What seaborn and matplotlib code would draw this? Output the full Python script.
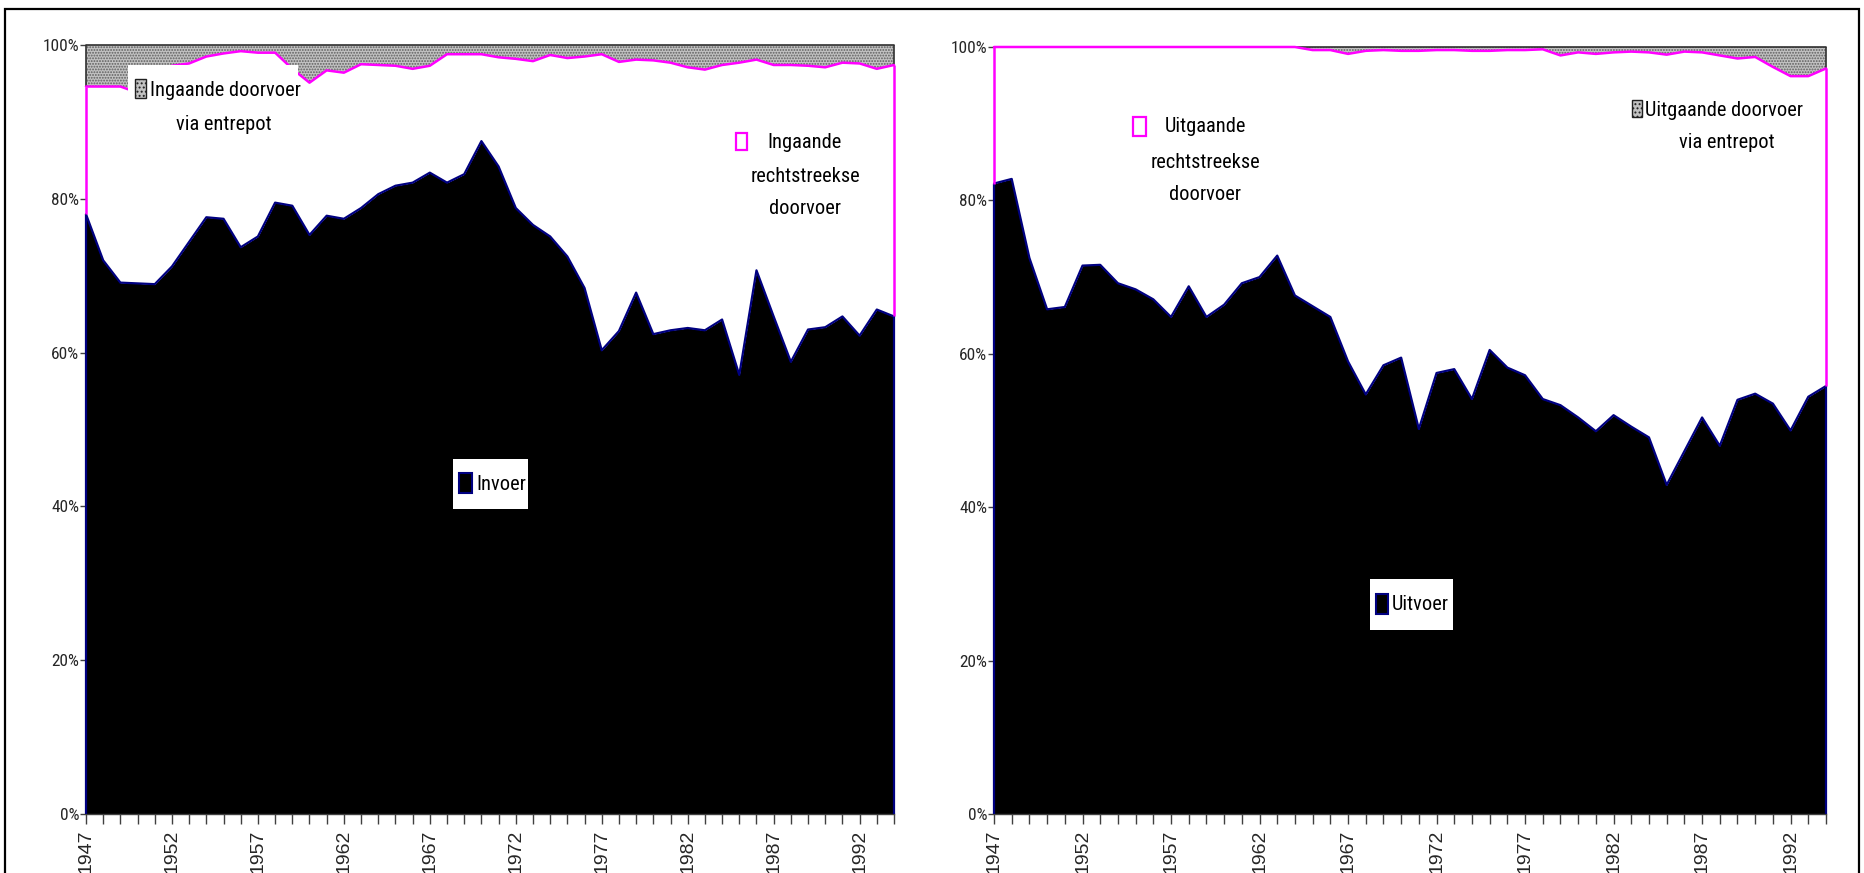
import numpy as np
import matplotlib
matplotlib.use("Agg")
import matplotlib.pyplot as plt
from matplotlib import font_manager
from matplotlib.font_manager import FontProperties
from matplotlib.patches import Rectangle
import seaborn as sns

# ---------------------------------------------------------------------------
# Data: shares (%) of each flow per year, 1947-1994
# ---------------------------------------------------------------------------
years = list(range(1947, 1995))

# incoming goods
invoer = [78.0, 72.0, 69.1, 69.0, 68.9, 71.2, 74.4, 77.6, 77.4, 73.7,
          75.1, 79.5, 79.1, 75.3, 77.8, 77.4, 78.8, 80.6, 81.7, 82.1,
          83.4, 82.1, 83.2, 87.5, 84.2, 78.8, 76.6, 75.1, 72.5, 68.4,
          60.3, 62.8, 67.8, 62.4, 62.9, 63.2, 62.9, 64.3, 57.1, 70.7,
          64.7, 58.8, 63.0, 63.3, 64.7, 62.2, 65.6, 64.7]
ingaand_rechtstreeks = [16.6, 22.6, 25.5, 24.8, 26.9, 26.1, 23.2, 20.9, 21.5, 25.5,
                        23.9, 19.5, 17.8, 19.8, 18.9, 19.0, 18.7, 16.8, 15.6, 14.8,
                        13.9, 16.7, 15.6, 11.3, 14.2, 19.4, 21.3, 23.6, 25.8, 30.1,
                        38.5, 35.0, 30.3, 35.6, 34.8, 33.9, 33.9, 33.1, 40.6, 27.4,
                        32.7, 38.6, 34.3, 33.8, 33.0, 35.4, 31.3, 32.7]
ingaand_entrepot = [5.4, 5.4, 5.4, 6.2, 4.2, 2.7, 2.4, 1.5, 1.1, 0.8,
                    1.0, 1.0, 3.1, 4.9, 3.3, 3.6, 2.5, 2.6, 2.7, 3.1,
                    2.7, 1.2, 1.2, 1.2, 1.6, 1.8, 2.1, 1.3, 1.7, 1.5,
                    1.2, 2.2, 1.9, 2.0, 2.3, 2.9, 3.2, 2.6, 2.3, 1.9,
                    2.6, 2.6, 2.7, 2.9, 2.3, 2.4, 3.1, 2.6]

# outgoing goods
uitvoer = [82.2, 82.8, 72.5, 65.8, 66.1, 71.5, 71.6, 69.2, 68.4, 67.1,
           64.8, 68.8, 64.8, 66.4, 69.2, 70.0, 72.8, 67.6, 66.2, 64.8,
           59.0, 54.7, 58.5, 59.5, 50.2, 57.5, 58.0, 54.1, 60.5, 58.2,
           57.2, 54.1, 53.3, 51.7, 49.9, 52.0, 50.5, 49.1, 42.9, 47.3,
           51.7, 48.0, 54.0, 54.8, 53.5, 50.0, 54.4, 55.8]
uitgaand_rechtstreeks = [17.8, 17.2, 27.5, 34.2, 33.9, 28.5, 28.4, 30.8, 31.6, 32.9,
                         35.2, 31.2, 35.2, 33.6, 30.8, 30.0, 27.2, 32.4, 33.4, 34.8,
                         40.1, 44.8, 41.1, 40.0, 49.3, 42.1, 41.6, 45.4, 39.0, 41.4,
                         42.4, 45.6, 45.6, 47.6, 49.2, 47.3, 48.9, 50.2, 56.1, 52.1,
                         47.6, 50.9, 44.5, 43.9, 43.9, 46.2, 41.8, 41.4]
uitgaand_entrepot = [0.0, 0.0, 0.0, 0.0, 0.0, 0.0, 0.0, 0.0, 0.0, 0.0,
                     0.0, 0.0, 0.0, 0.0, 0.0, 0.0, 0.0, 0.0, 0.4, 0.4,
                     0.9, 0.5, 0.4, 0.5, 0.5, 0.4, 0.4, 0.5, 0.5, 0.4,
                     0.4, 0.3, 1.1, 0.7, 0.9, 0.7, 0.6, 0.7, 1.0, 0.6,
                     0.7, 1.1, 1.5, 1.3, 2.6, 3.8, 3.8, 2.8]

ytick_values = [0, 20, 40, 60, 80, 100]
ytick_labels = ["0%", "20%", "40%", "60%", "80%", "100%"]

# ---------------------------------------------------------------------------
# Styling
# ---------------------------------------------------------------------------
sns.set_theme(style="white")
plt.rcParams["font.family"] = ["Liberation Sans", "DejaVu Sans"]
plt.rcParams["hatch.linewidth"] = 0.9


def pick_narrow_font():
    """Return FontProperties for a narrow/condensed regular sans, if any."""
    order = ["liberation sans narrow", "arial narrow", "roboto condensed",
             "open sans condensed", "noto sans", "open sans", "roboto",
             "dejavu sans", "lato", "inter"]
    best, best_rank = None, None
    for f in font_manager.fontManager.ttflist:
        name = f.name.lower()
        stretch = str(f.stretch).lower()
        cond = ("narrow" in name or "condensed" in name
                or stretch in ("condensed", "semi-condensed"))
        if not cond or f.style != "normal":
            continue
        if f.weight not in (400, "normal", "regular", "book"):
            continue
        if "extra" in stretch or "ultra" in stretch or "extra" in name:
            continue
        rank = next((i for i, o in enumerate(order) if name.startswith(o)), len(order))
        if "semi" in stretch or "semi" in name:
            rank += 0.5
        if best_rank is None or rank < best_rank:
            best, best_rank = f, rank
    if best is None:
        return FontProperties(family="Liberation Sans")
    return FontProperties(fname=best.fname)


NARROW_FP = pick_narrow_font()

NAVY = "#000080"
MAGENTA = "#FF00FF"
GRAY_FILL = "#c2c2c2"
GRAY_HATCH = "#5e5e5e"

W, H = 1865, 873
fig = plt.figure(figsize=(W / 100, H / 100), dpi=100)
fig.patch.set_facecolor("white")
renderer = fig.canvas.get_renderer()


def fx(x):
    return x / W


def fy(y):
    return 1 - y / H


def axes_rect(x0, y0, x1, y1):
    return [fx(x0), fy(y1), fx(x1) - fx(x0), fy(y0) - fy(y1)]


def fitted_size(sample, width_px, max_pt):
    """Largest size (<= max_pt) at which `sample` is at most width_px wide."""
    fp = NARROW_FP.copy()
    fp.set_size(10)
    t = fig.text(0, 0, sample, fontproperties=fp)
    w = t.get_window_extent(renderer).width
    t.remove()
    return min(max_pt, 10 * width_px / w)


LEGEND_PT = fitted_size("Ingaande doorvoer", 150, 18)
YTICK_PT = fitted_size("100%", 36, 13)


def draw_panel(ax, base, mid, top):
    x = np.array(years)
    s1 = np.array(base)
    s2 = s1 + np.array(mid)
    s3 = s2 + np.array(top)

    ax.fill_between(x, 0, s1, facecolor="black", lw=0, zorder=1)
    ax.fill_between(x, s1, s2, facecolor="white", lw=0, zorder=1)
    ax.fill_between(x, s2, s3, facecolor=GRAY_FILL, edgecolor=GRAY_HATCH,
                    hatch="......", lw=0, zorder=1)

    # series outlines: top edge plus both vertical ends
    for lower, upper, col, lw in ((np.zeros_like(s1), s1, NAVY, 1.6),
                                  (s1, s2, MAGENTA, 1.8),
                                  (s2, s3, "#303030", 1.2)):
        sns.lineplot(x=x, y=upper, color=col, lw=lw, ax=ax, sort=False,
                     errorbar=None, zorder=4 if col == MAGENTA else 3)
        ax.vlines([x[0], x[-1]], [lower[0], lower[-1]], [upper[0], upper[-1]],
                  color=col, lw=lw, zorder=3)
    for ln in ax.lines:
        ln.set_clip_on(False)
    for coll in ax.collections:
        coll.set_clip_on(False)

    ax.set_xlim(x[0], x[-1])
    ax.set_ylim(0, 100)
    ax.set_xticks(x)
    ax.set_xticklabels([str(y) if (y - 1947) % 5 == 0 else "" for y in years],
                       rotation=90, fontsize=14, family="Liberation Sans")
    ax.set_yticks(ytick_values)
    ax.set_yticklabels(ytick_labels)
    for lbl in ax.get_yticklabels():
        lbl.set_fontproperties(NARROW_FP)
        lbl.set_fontsize(YTICK_PT)
    ax.tick_params(axis="x", direction="out", length=7, width=1,
                   color="#404040", pad=4, bottom=True)
    ax.tick_params(axis="y", direction="out", length=4, width=1,
                   color="#404040", pad=1, left=True)
    for side in ("top", "right", "left"):
        ax.spines[side].set_visible(False)
    ax.spines["bottom"].set_color("#404040")
    ax.spines["bottom"].set_linewidth(1)
    ax.set_xlabel("")
    ax.set_ylabel("")
    ax.patch.set_alpha(0)


ax_in = fig.add_axes(axes_rect(86, 45, 894, 814))
ax_out = fig.add_axes(axes_rect(994, 47, 1826, 814))
draw_panel(ax_in, invoer, ingaand_rechtstreeks, ingaand_entrepot)
draw_panel(ax_out, uitvoer, uitgaand_rechtstreeks, uitgaand_entrepot)


# ---------------------------------------------------------------------------
# Legend entries, placed inside the plot areas
# ---------------------------------------------------------------------------
def box(x0, y0, x1, y1, **kw):
    fig.add_artist(Rectangle((fx(x0), fy(y1)), fx(x1) - fx(x0), fy(y0) - fy(y1),
                             transform=fig.transFigure, **kw))


def label(x, y, s, ha="center"):
    fp = NARROW_FP.copy()
    fp.set_size(LEGEND_PT)
    fig.text(fx(x), fy(y), s, ha=ha, va="center", fontproperties=fp,
             color="black", zorder=7)


# incoming panel
box(128, 65, 298, 137, facecolor="white", lw=0, zorder=5)
box(135, 79, 146, 98, facecolor=GRAY_FILL, edgecolor="#202020", hatch="....",
    lw=1, zorder=6)
label(150, 90, "Ingaande doorvoer", ha="left")
label(224, 125, "via entrepot")

box(736, 133, 747, 150, facecolor="white", edgecolor=MAGENTA, lw=1.6, zorder=6)
label(805, 142, "Ingaande")
label(805, 176, "rechtstreekse")
label(805, 209, "doorvoer")

box(453, 459, 528, 509, facecolor="white", lw=0, zorder=5)
box(459, 473, 472, 493, facecolor="black", edgecolor=NAVY, lw=1.5, zorder=6)
label(476, 484, "Invoer", ha="left")

# outgoing panel
box(1133, 117, 1146, 136, facecolor="white", edgecolor=MAGENTA, lw=1.6, zorder=6)
label(1205, 127, "Uitgaande")
label(1205, 162, "rechtstreekse")
label(1205, 195, "doorvoer")

box(1632, 100, 1642, 117, facecolor=GRAY_FILL, edgecolor="#202020", hatch="....",
    lw=1, zorder=6)
label(1645, 110, "Uitgaande doorvoer", ha="left")
label(1727, 143, "via entrepot")

box(1370, 579, 1453, 630, facecolor="white", lw=0, zorder=5)
box(1376, 594, 1388, 614, facecolor="black", edgecolor=NAVY, lw=1.5, zorder=6)
label(1392, 604, "Uitvoer", ha="left")

# outer frame around the whole chart
box(5, 9, 1859, 900, facecolor="none", edgecolor="black", lw=1.6, zorder=10)

fig.savefig("out.png", dpi=100, facecolor="white")
